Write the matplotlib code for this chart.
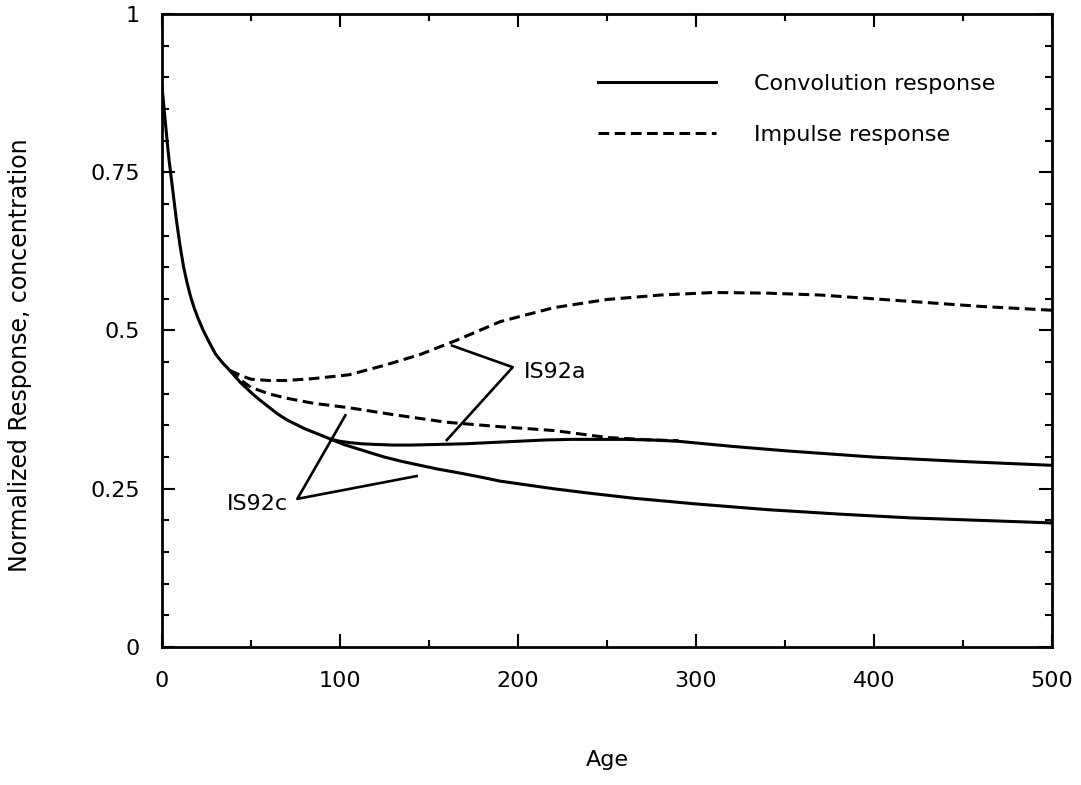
import matplotlib
matplotlib.use("Agg")
import matplotlib.pyplot as plt
import matplotlib.ticker as ticker

# IS92c convolution response (lower solid, also the shared early decay)
age_c_conv = [0, 1, 2, 3, 4, 5, 6, 8, 10, 12, 14, 16, 18, 20, 23, 26, 30, 34,
              38, 44, 50, 55, 60, 65, 70, 80, 88, 95, 102, 110, 118, 125, 135,
              145, 155, 165, 178, 190, 205, 220, 240, 265, 300, 340, 380, 420,
              460, 500]
resp_c_conv = [0.885, 0.855, 0.825, 0.795, 0.768, 0.745, 0.722, 0.676, 0.636,
               0.602, 0.576, 0.554, 0.536, 0.521, 0.501, 0.484, 0.463, 0.449,
               0.437, 0.418, 0.402, 0.390, 0.379, 0.368, 0.359, 0.345, 0.336,
               0.328, 0.320, 0.313, 0.306, 0.300, 0.293, 0.287, 0.281, 0.276,
               0.269, 0.262, 0.256, 0.250, 0.243, 0.235, 0.226, 0.217, 0.210,
               0.204, 0.200, 0.196]

# IS92a convolution response (upper solid)
age_a_conv = [95, 100, 105, 112, 120, 130, 140, 155, 170, 185, 200, 215, 230,
              245, 260, 275, 290, 305, 320, 350, 400, 450, 500]
resp_a_conv = [0.328, 0.325, 0.323, 0.321, 0.320, 0.319, 0.319, 0.320, 0.321,
               0.323, 0.325, 0.327, 0.328, 0.328, 0.328, 0.327, 0.325, 0.321,
               0.317, 0.310, 0.300, 0.293, 0.287]

# IS92a impulse response (upper dashed)
age_a_imp = [38, 45, 50, 60, 70, 85, 105, 125, 145, 165, 190, 220, 250, 280,
             310, 340, 370, 400, 430, 460, 500]
resp_a_imp = [0.437, 0.428, 0.423, 0.421, 0.421, 0.424, 0.430, 0.445, 0.462,
              0.484, 0.514, 0.536, 0.549, 0.556, 0.560, 0.559, 0.556, 0.550,
              0.544, 0.538, 0.532]

# IS92c impulse response (lower dashed)
age_c_imp = [38, 45, 50, 60, 70, 85, 105, 130, 160, 190, 220, 250, 275, 290]
resp_c_imp = [0.437, 0.420, 0.410, 0.400, 0.393, 0.385, 0.378, 0.367, 0.355,
              0.348, 0.342, 0.331, 0.327, 0.326]

# label pointer lines
is92a_x = [163, 197, 160]
is92a_y = [0.476, 0.442, 0.327]
is92c_x = [103, 76, 143]
is92c_y = [0.366, 0.234, 0.270]

FS = 16
lw = 2.2

fig = plt.figure(figsize=(10.81, 7.85), dpi=100)
ax = fig.add_axes([0.1499, 0.1758, 0.8233, 0.8064])

ax.plot(age_c_conv, resp_c_conv, color="black", lw=lw, label="Convolution response")
ax.plot(age_a_conv, resp_a_conv, color="black", lw=lw)
l1, = ax.plot(age_a_imp, resp_a_imp, color="black", lw=lw, ls="--", label="Impulse response")
l2, = ax.plot(age_c_imp, resp_c_imp, color="black", lw=lw, ls="--")
for l in (l1, l2):
    l.set_dashes([3.5, 1.8])

ax.plot(is92a_x, is92a_y, color="black", lw=1.9)
ax.plot(is92c_x, is92c_y, color="black", lw=1.9)
ax.text(203, 0.434, "IS92a", fontsize=FS, ha="left", va="center")
ax.text(71, 0.226, "IS92c", fontsize=FS, ha="right", va="center")

ax.set_xlim(0, 500)
ax.set_ylim(0, 1)
ax.xaxis.set_major_locator(ticker.MultipleLocator(100))
ax.xaxis.set_minor_locator(ticker.MultipleLocator(50))
ax.yaxis.set_major_locator(ticker.MultipleLocator(0.25))
ax.yaxis.set_minor_locator(ticker.MultipleLocator(0.05))
ax.yaxis.set_major_formatter(ticker.FuncFormatter(lambda v, p: "%g" % v))
ax.tick_params(which="both", direction="in", top=True, right=True, width=1.5)
ax.tick_params(which="major", length=9.5, labelsize=FS)
ax.tick_params(which="minor", length=5)
ax.tick_params(axis="y", which="major", pad=16)
ax.tick_params(axis="x", which="major", pad=17)
for s in ax.spines.values():
    s.set_linewidth(2)

ax.set_xlabel("Age", fontsize=FS)
ax.set_ylabel("Normalized Response, concentration", fontsize=17)
ax.xaxis.set_label_coords(0.5, -0.163)
ax.yaxis.set_label_coords(-0.146, 0.461)

ax.legend(loc="upper left", bbox_to_anchor=(0.49, 0.905), frameon=False,
          fontsize=FS, handlelength=5.3, handletextpad=1.7, labelspacing=1.4,
          borderpad=0, borderaxespad=0)

plt.savefig("out.png", dpi=100)
